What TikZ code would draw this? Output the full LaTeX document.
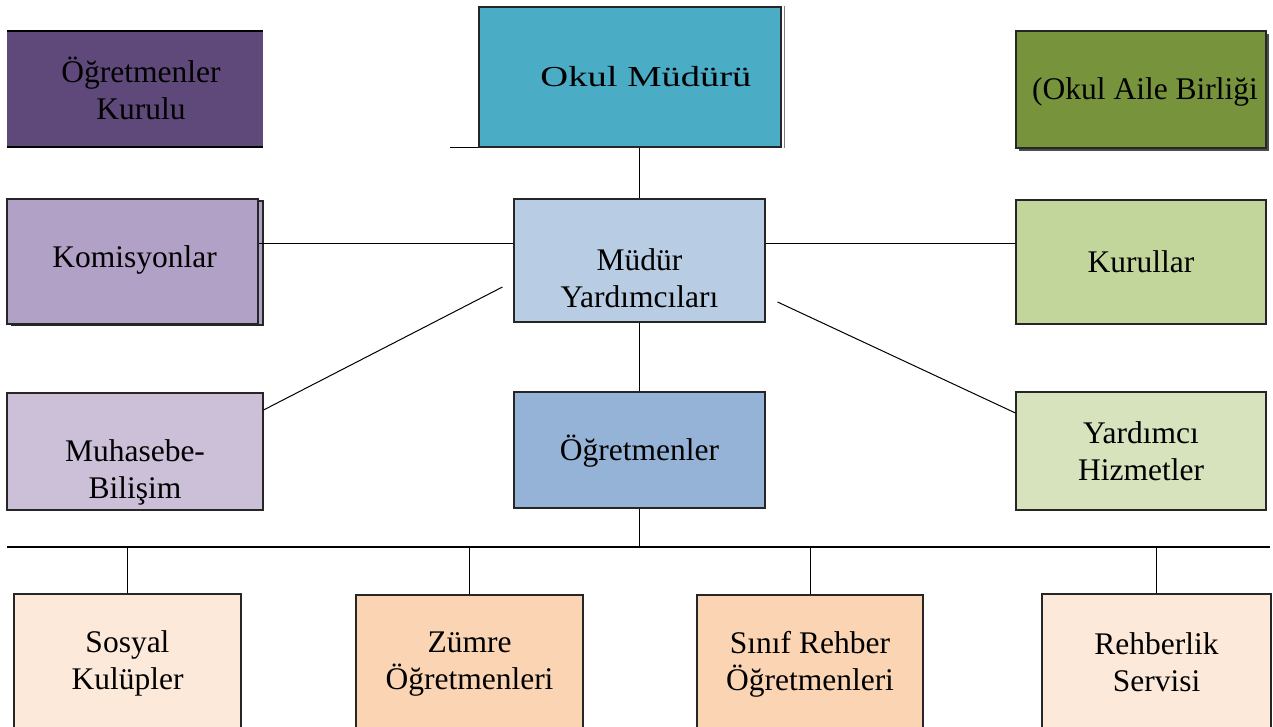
\documentclass[tikz,border=0pt]{standalone}
\usepackage{fontspec}
\setmainfont{Liberation Serif}
\usetikzlibrary{calc}
\definecolor{cKurulu}{HTML}{5F497A}
\definecolor{cMudur}{HTML}{4BACC6}
\definecolor{cAile}{HTML}{77933C}
\definecolor{cKomisyon}{HTML}{B2A1C7}
\definecolor{cMyrd}{HTML}{B8CCE4}
\definecolor{cKurullar}{HTML}{C2D69B}
\definecolor{cMuhasebe}{HTML}{CCC0D9}
\definecolor{cOgretmen}{HTML}{95B3D7}
\definecolor{cYardimci}{HTML}{D6E3BC}
\definecolor{cLight}{HTML}{FDE9D9}
\definecolor{cPeach}{HTML}{FBD4B4}
\begin{document}
\begin{tikzpicture}[x=1pt,y=-1pt,
  box/.style={draw=black!85, line width=1.1pt, inner sep=0pt},
  tx/.style={align=center, font=\fontsize{31.5}{37}\selectfont, inner sep=0pt},
  conn/.style={line width=1pt, draw=black},
  bus/.style={line width=2.4pt, draw=black}]
\useasboundingbox (0,0) rectangle (1273,727);
% top row
\node[fill=cKurulu, minimum width=256pt, minimum height=116pt, inner sep=0pt] (kurulu) at (135,89) {};
\draw[line width=2.2pt] (kurulu.north west) -- (kurulu.north east);
\draw[line width=2.2pt] (kurulu.south west) -- (kurulu.south east);
\node[tx] (tkurulu) at ([xshift=6pt,yshift=1pt]kurulu.center) {Öğretmenler\\Kurulu};

\node[box, fill=cMudur, minimum width=302pt, minimum height=140pt] (mudur) at (630,77) {};
\draw[gray, line width=1pt] ([xshift=3pt]mudur.north east) -- ([xshift=3pt]mudur.south east);
\draw[line width=1.6pt] (mudur.south west) -- ++(-28,0);
\node[tx] (tmudur) at ([xshift=16pt]mudur.center) {\fontsize{29}{34}\selectfont\scalebox{1.33}[1]{Okul Müdürü}};

\fill[black!70] (1019,34) rectangle (1269,151);
\node[box, fill=cAile, minimum width=250pt, minimum height=117pt] (aile) at (1141,89.5) {};
\node[tx] (taile) at ([xshift=4pt,yshift=-2pt]aile.center) {(Okul Aile Birliği};

% second row
\draw[box, fill=cKomisyon] (12,201) rectangle (263,325);
\node[box, fill=cKomisyon, minimum width=251pt, minimum height=125pt] (komisyon) at (132.5,261.5) {};
\node[tx] (tkomisyon) at ([xshift=2pt,yshift=2pt]komisyon.center) {Komisyonlar};

\node[box, fill=cMyrd, minimum width=251pt, minimum height=123pt] (myrd) at (639.5,260.5) {};
\node[tx] (tmyrd) at ([yshift=-18pt]myrd.center) {Müdür\\Yardımcıları};

\node[box, fill=cKurullar, minimum width=250pt, minimum height=124pt] (kurullar) at (1141,262) {};
\node[tx] (tkurullar) at (kurullar.center) {Kurullar};

% third row
\node[box, fill=cMuhasebe, minimum width=256pt, minimum height=117pt] (muhasebe) at (135,451.5) {};
\node[tx] (tmuhasebe) at ([yshift=-21pt]muhasebe.center) {Muhasebe-\\Bilişim};

\node[box, fill=cOgretmen, minimum width=251pt, minimum height=116pt] (ogretmen) at (639.5,450) {};
\node[tx] (togretmen) at ([yshift=-1pt]ogretmen.center) {Öğretmenler};

\node[box, fill=cYardimci, minimum width=250pt, minimum height=118pt] (yardimci) at (1141,451) {};
\node[tx] (tyardimci) at (yardimci.center) {Yardımcı\\Hizmetler};

% bottom row
\node[box, fill=cLight, minimum width=227pt, minimum height=140pt] (sosyal) at (127.5,664) {};
\node[tx] (tsosyal) at ([yshift=1pt]sosyal.center) {Sosyal\\Kulüpler};
\node[box, fill=cPeach, minimum width=227pt, minimum height=140pt] (zumre) at (469.5,665) {};
\node[tx] (tzumre) at ([yshift=1pt]zumre.center) {Zümre\\Öğretmenleri};
\node[box, fill=cPeach, minimum width=226pt, minimum height=140pt] (sinif) at (810,665) {};
\node[tx] (tsinif) at ([yshift=1pt]sinif.center) {Sınıf Rehber\\Öğretmenleri};
\node[box, fill=cLight, minimum width=229pt, minimum height=140pt] (rehber) at (1156.5,664) {};
\node[tx] (trehber) at ([yshift=2pt]rehber.center) {Rehberlik\\Servisi};

% connectors
\draw[conn] (myrd.north) -- (myrd.north |- mudur.south);
\draw[conn] ([yshift=16.5pt]myrd.west) -- ([yshift=16.5pt]myrd.west -| komisyon.east);
\draw[conn] ([yshift=16.5pt]myrd.east) -- ([yshift=16.5pt]myrd.east -| kurullar.west);
\draw[conn] (myrd.south) -- (ogretmen.north);
\coordinate (dl) at ([xshift=-11pt,yshift=-26.5pt]myrd.west);
\draw[conn] (dl) -- ([yshift=41.5pt]muhasebe.east);
\coordinate (dr) at ([xshift=12pt,yshift=-41.5pt]myrd.east);
\draw[conn] (dr) -- ([yshift=38pt]yardimci.west);
\coordinate (busL) at (7,547);
\coordinate (busR) at (1270,547);
\draw[bus] (busL) -- (busR);
\draw[conn] (ogretmen.south) -- (ogretmen.south |- busL);
\draw[conn] (sosyal.north) -- (sosyal.north |- busL);
\draw[conn] (zumre.north) -- (zumre.north |- busL);
\draw[conn] ([xshift=0.5pt]sinif.north) -- ([xshift=0.5pt]sinif.north |- busL);
\draw[conn] (rehber.north) -- (rehber.north |- busL);
\end{tikzpicture}
\end{document}
